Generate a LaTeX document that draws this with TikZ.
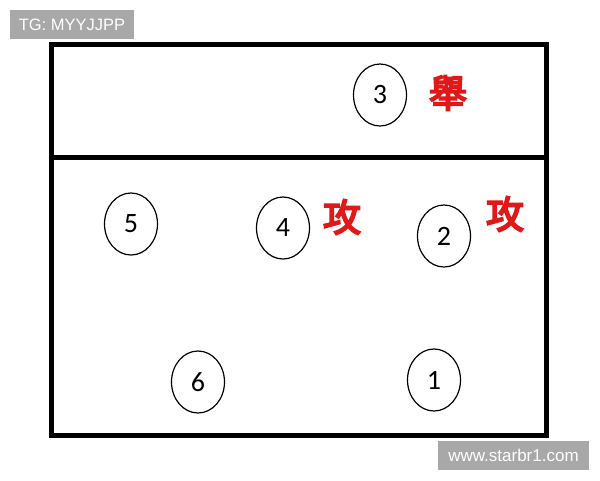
\documentclass[tikz,border=0pt]{standalone}
\usepackage{fontspec}
\usetikzlibrary{shapes.geometric}
\setmainfont{Carlito}
\newfontfamily\tgfont{Liberation Sans}
\newfontfamily\cjk[FakeBold=5]{Noto Sans CJK TC}
\definecolor{wmgray}{HTML}{A8A8A8}
\definecolor{cred}{HTML}{E01818}
\begin{document}
\begin{tikzpicture}[x=1pt,y=-1pt,
  player/.style={draw=black, line width=1.2pt, ellipse, minimum width=53pt, minimum height=62pt, inner sep=0pt, font=\fontsize{28}{30}\selectfont},
  tagbox/.style={fill=wmgray, text=white, inner sep=0pt},
  cmark/.style={text=cred, font=\cjk\fontsize{38}{40}\selectfont, inner sep=0pt}]
\useasboundingbox (0,0) rectangle (600,480);
\fill[white] (0,0) rectangle (600,480);
% court
\draw[line width=5pt] (51,44) rectangle (546,435);
\draw[line width=5pt] (51,157) -- (546,157);
% players
\node[player] (p3) at (380,95) {3};
\node[player] (p5) at (131,224) {5};
\node[player] (p4) at (283,228) {4};
\node[player] (p2) at (444,236) {2};
\node[player] (p6) at (198,382) {6};
\node[player] (p1) at (434,380) {1};
% marks
\node[cmark] (m3) at (448,93) {舉};
\node[cmark] (m4) at (342,217) {攻};
\node[cmark] (m2) at (505,214) {攻};
% watermarks
\node[tagbox, minimum width=124pt, minimum height=29pt, font=\tgfont\fontsize{16.5}{20}\selectfont] (tg) at (72,24.5) {TG: MYYJJPP};
\node[tagbox, minimum width=151pt, minimum height=29pt, font=\tgfont\fontsize{17}{20}\selectfont] (wm) at (513.5,455) {www.starbr1.com};
\end{tikzpicture}
\end{document}
